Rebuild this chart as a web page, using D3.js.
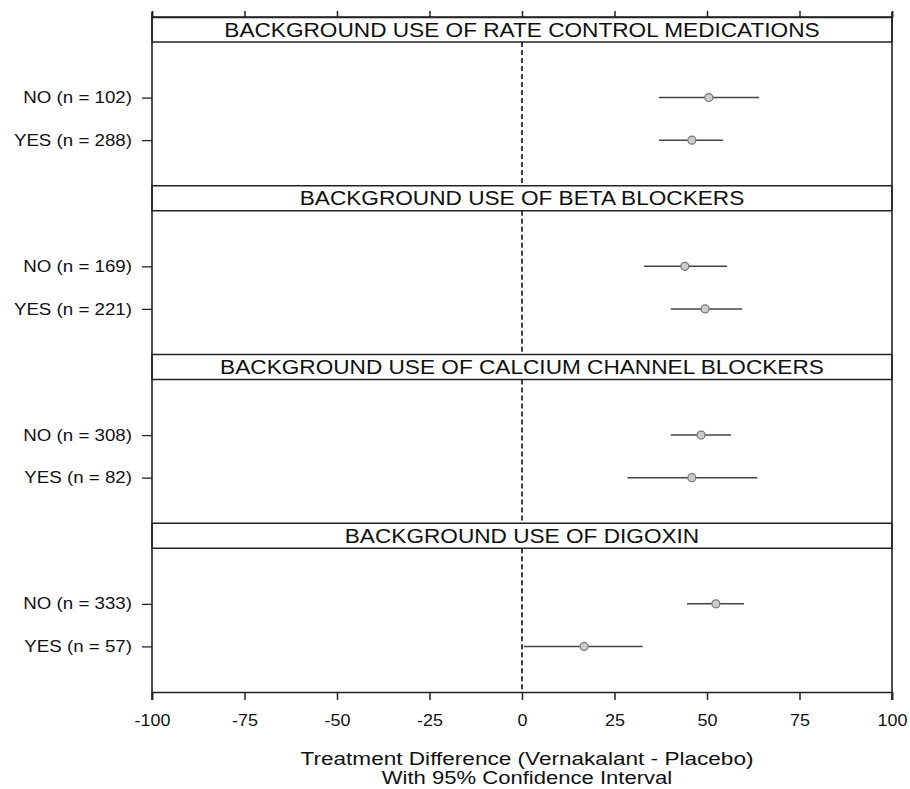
<!doctype html>
<html lang="en">
<head>
<meta charset="utf-8">
<script src="https://d3js.org/d3.v7.min.js"></script>
<style>
  body { margin: 0; background: #fff; }
  svg { font-family: "Liberation Sans", Arial, sans-serif; }
</style>
</head>
<body>
<svg width="910" height="789"></svg>
<script>

var panels = [
  "BACKGROUND USE OF RATE CONTROL MEDICATIONS",
  "BACKGROUND USE OF BETA BLOCKERS",
  "BACKGROUND USE OF CALCIUM CHANNEL BLOCKERS",
  "BACKGROUND USE OF DIGOXIN"
];
var rowLabels = [
  ["NO (n = 102)", "YES (n = 288)"],
  ["NO (n = 169)", "YES (n = 221)"],
  ["NO (n = 308)", "YES (n = 82)"],
  ["NO (n = 333)", "YES (n = 57)"]
];
var estimate = [[50.5, 45.9], [44.0, 49.5], [48.4, 45.9], [52.4, 16.8]];
var lower    = [[37.0, 37.0], [33.0, 40.2], [40.2, 28.5], [44.6, 0.5]];
var upper    = [[64.1, 54.3], [55.4, 59.5], [56.5, 63.6], [60.0, 32.6]];
var xTicks = [-100, -75, -50, -25, 0, 25, 50, 75, 100];

var svg = d3.select("svg"),
    plotLeft = 152, plotRight = 892, plotTop = 17, plotBottom = 692,
    stripH = 25;

// the scanned original has a wide typeface; widen ours to match
function stretch(sel, k) {
  sel.each(function() {
    var w = this.getComputedTextLength();
    d3.select(this).attr("textLength", w * k).attr("lengthAdjust", "spacingAndGlyphs");
  });
}

var x = d3.scaleLinear().domain([-100, 100]).range([plotLeft, plotRight]);
var panelY = d3.scaleBand().domain(d3.range(panels.length)).range([plotTop, plotBottom]);

panels.forEach(function(title, i) {
  var y0 = panelY(i), h = panelY.bandwidth();
  var g = svg.append("g");
  var y = d3.scalePoint().domain(rowLabels[i])
      .range([y0 + stripH + 5, y0 + h + 5]).padding(1.19);

  g.append("rect")
      .attr("x", plotLeft).attr("y", y0).attr("width", plotRight - plotLeft).attr("height", stripH)
      .attr("fill", "#fff").attr("stroke", "#222").attr("stroke-width", 1.5);
  g.append("text")
      .attr("x", (plotLeft + plotRight) / 2).attr("y", y0 + stripH / 2 + 7)
      .attr("text-anchor", "middle").attr("font-size", 19.5).attr("fill", "#111")
      .text(title)
      .call(stretch, 1.16);

  g.append("line")
      .attr("x1", x(0)).attr("x2", x(0)).attr("y1", y0 + stripH).attr("y2", y0 + h)
      .attr("stroke", "#111").attr("stroke-width", 1.6).attr("stroke-dasharray", "5,3");

  g.append("g")
      .attr("transform", "translate(" + plotLeft + ",0)")
      .call(d3.axisLeft(y).tickSize(10).tickPadding(10))
      .call(function(a) {
        a.select(".domain").remove();
        a.selectAll("line").attr("stroke", "#222").attr("stroke-width", 1.3);
        a.selectAll("text").attr("font-size", 16).attr("fill", "#111")
            .attr("font-family", "Liberation Sans, Arial, sans-serif")
            .call(stretch, 1.17);
      });

  rowLabels[i].forEach(function(lab, j) {
    g.append("line")
        .attr("x1", x(lower[i][j])).attr("x2", x(upper[i][j]))
        .attr("y1", y(lab)).attr("y2", y(lab))
        .attr("stroke", "#444").attr("stroke-width", 1.5);
    g.append("circle")
        .attr("cx", x(estimate[i][j])).attr("cy", y(lab)).attr("r", 4)
        .attr("fill", "#ccc").attr("stroke", "#777").attr("stroke-width", 1.2);
  });
});

// frame
svg.append("line").attr("x1", plotLeft).attr("x2", plotLeft).attr("y1", 12).attr("y2", plotBottom + 8)
    .attr("stroke", "#222").attr("stroke-width", 1.6);
svg.append("line").attr("x1", plotRight).attr("x2", plotRight).attr("y1", 12).attr("y2", plotBottom + 8)
    .attr("stroke", "#222").attr("stroke-width", 1.6);

svg.append("g")
    .attr("transform", "translate(0," + plotTop + ")")
    .call(d3.axisTop(x).tickValues(xTicks).tickSize(6).tickFormat(""))
    .call(function(a) {
      a.selectAll("line,path").attr("stroke", "#222").attr("stroke-width", 1.5);
    });

svg.append("g")
    .attr("transform", "translate(0," + plotBottom + ")")
    .call(d3.axisBottom(x).tickValues(xTicks).tickSize(8).tickPadding(15)
        .tickFormat(function(d) { return String(d); }))
    .call(function(a) {
      a.selectAll("line,path").attr("stroke", "#222").attr("stroke-width", 1.5);
      a.selectAll("text").attr("font-size", 16).attr("fill", "#111")
          .attr("font-family", "Liberation Sans, Arial, sans-serif")
          .call(stretch, 1.12);
    });

svg.append("text")
    .attr("x", 527).attr("y", 765)
    .attr("text-anchor", "middle").attr("font-size", 17.5).attr("fill", "#111")
    .text("Treatment Difference (Vernakalant - Placebo)")
    .call(stretch, 1.29);
svg.append("text")
    .attr("x", 527).attr("y", 784)
    .attr("text-anchor", "middle").attr("font-size", 17.5).attr("fill", "#111")
    .text("With 95% Confidence Interval")
    .call(stretch, 1.26);

</script>
</body>
</html>
